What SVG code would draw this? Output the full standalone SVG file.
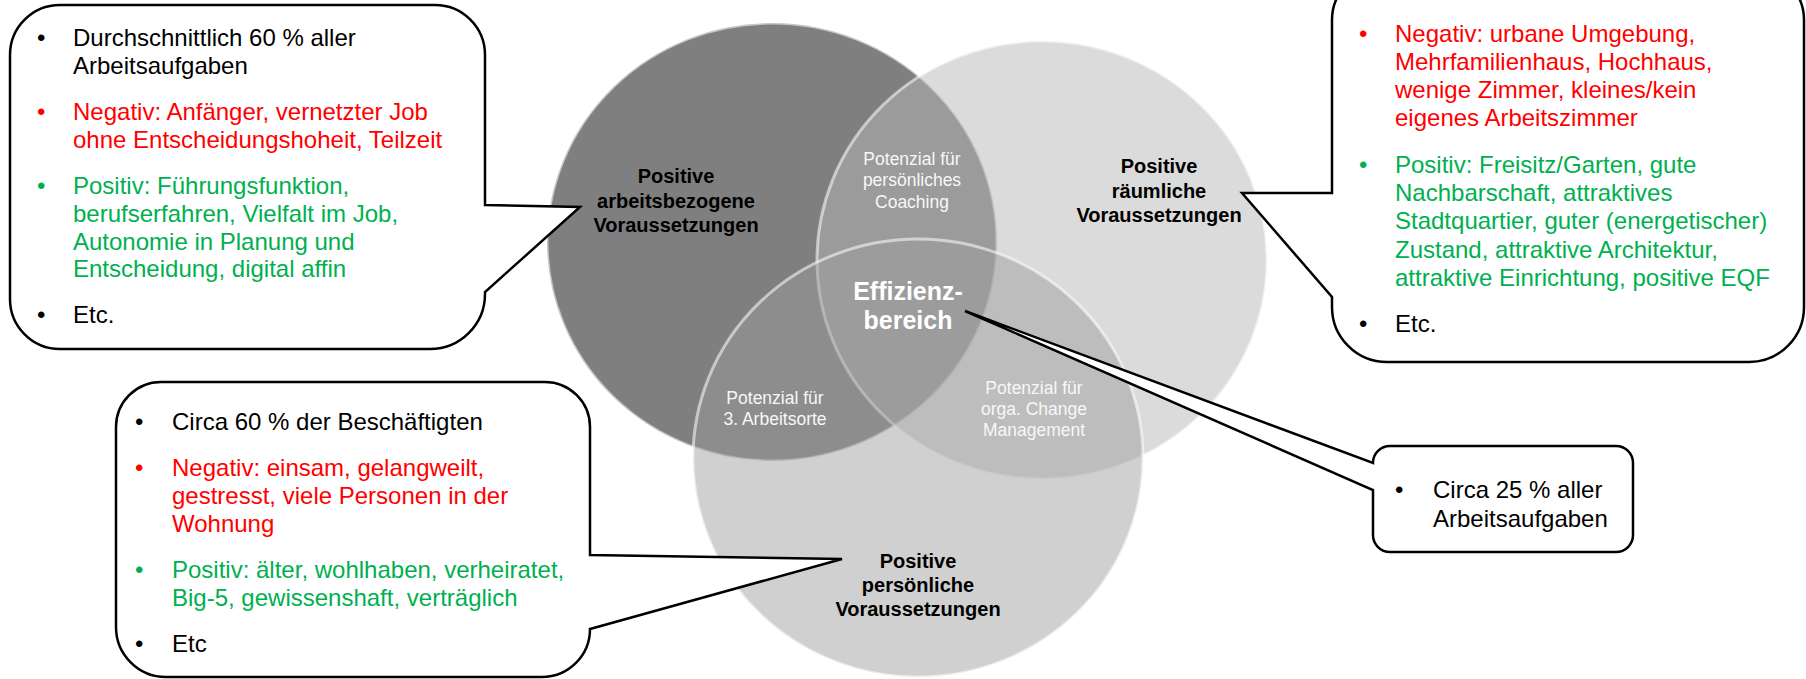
<svg xmlns="http://www.w3.org/2000/svg" width="1806" height="679" viewBox="0 0 1806 679">
  <style>
    .ring { stroke: #ffffff; stroke-opacity: 0.55; stroke-width: 3; }
    .head { font-family: "Liberation Sans", Arial, sans-serif; font-size: 20px; font-weight: bold; fill: #000000; text-anchor: middle; }
    .zone { font-family: "Liberation Sans", Arial, sans-serif; font-size: 17.5px; fill: #f7f7f7; text-anchor: middle; }
    .core { font-family: "Liberation Sans", Arial, sans-serif; font-size: 25px; font-weight: bold; fill: #ffffff; text-anchor: middle; }
    .bubble { fill: #ffffff; stroke: #000000; stroke-width: 2.5; stroke-linejoin: miter; }
    .txt { font-family: "Liberation Sans", Arial, sans-serif; font-size: 24px; }
    .k { fill: #000000; }
    .neg { fill: #ff0000; }
    .pos { fill: #00b050; }
  </style>

  <!-- Venn circles -->
  <g id="circle-work">
    <ellipse class="ring" cx="772" cy="242" rx="225" ry="219" fill="#7f7f7f"/>
  </g>
  <g id="circle-space">
    <ellipse class="ring" cx="1042" cy="260" rx="225" ry="219" fill="#b8b8b8" fill-opacity="0.5"/>
  </g>
  <g id="circle-person">
    <ellipse class="ring" cx="918" cy="458" rx="225" ry="219" fill="#9d9d9d" fill-opacity="0.48"/>
  </g>

  <!-- circle and overlap labels -->
  <g id="label-work">
    <text class="head" x="676" y="183">Positive</text>
    <text class="head" x="676" y="208">arbeitsbezogene</text>
    <text class="head" x="676" y="232">Voraussetzungen</text>
  </g>
  <g id="label-space">
    <text class="head" x="1159" y="173">Positive</text>
    <text class="head" x="1159" y="198">räumliche</text>
    <text class="head" x="1159" y="222">Voraussetzungen</text>
  </g>
  <g id="label-person">
    <text class="head" x="918" y="568">Positive</text>
    <text class="head" x="918" y="592">persönliche</text>
    <text class="head" x="918" y="616">Voraussetzungen</text>
  </g>
  <g id="overlap-coaching">
    <text class="zone" x="912" y="165">Potenzial für</text>
    <text class="zone" x="912" y="186">persönliches</text>
    <text class="zone" x="912" y="208">Coaching</text>
  </g>
  <g id="overlap-places">
    <text class="zone" x="775" y="404">Potenzial für</text>
    <text class="zone" x="775" y="425">3. Arbeitsorte</text>
  </g>
  <g id="overlap-change">
    <text class="zone" x="1034" y="394">Potenzial für</text>
    <text class="zone" x="1034" y="415">orga. Change</text>
    <text class="zone" x="1034" y="436">Management</text>
  </g>
  <g id="core">
    <text class="core" x="908" y="300">Effizienz-</text>
    <text class="core" x="908" y="329">bereich</text>
  </g>

  <!-- callouts with their pointers -->
  <g id="callout-work">
    <path class="bubble" d="M 60 5 H 435 A 50 50 0 0 1 485 55 V 205 L 580 207 L 485 292 V 294 A 55 55 0 0 1 430 349 H 60 A 50 50 0 0 1 10 299 V 55 A 50 50 0 0 1 60 5 Z"/>
    <g class="txt">
      <text class="k" x="37" y="46">•</text>
      <text class="k" x="73" y="46">Durchschnittlich 60 % aller</text>
      <text class="k" x="73" y="74">Arbeitsaufgaben</text>
      <text class="neg" x="37" y="120">•</text>
      <text class="neg" x="73" y="120">Negativ: Anfänger, vernetzter Job</text>
      <text class="neg" x="73" y="148">ohne Entscheidungshoheit, Teilzeit</text>
      <text class="pos" x="37" y="194">•</text>
      <text class="pos" x="73" y="194">Positiv: Führungsfunktion,</text>
      <text class="pos" x="73" y="222">berufserfahren, Vielfalt im Job,</text>
      <text class="pos" x="73" y="250">Autonomie in Planung und</text>
      <text class="pos" x="73" y="277">Entscheidung, digital affin</text>
      <text class="k" x="37" y="323">•</text>
      <text class="k" x="73" y="323">Etc.</text>
    </g>
  </g>

  <g id="callout-space">
    <path class="bubble" d="M 1382 -30 H 1754 A 50 50 0 0 1 1804 20 V 307 A 55 55 0 0 1 1749 362 H 1387 A 55 55 0 0 1 1332 307 V 297 L 1242 193 L 1332 193 V 20 A 50 50 0 0 1 1382 -30 Z"/>
    <g class="txt">
      <text class="neg" x="1359" y="42">•</text>
      <text class="neg" x="1395" y="42">Negativ: urbane Umgebung,</text>
      <text class="neg" x="1395" y="70">Mehrfamilienhaus, Hochhaus,</text>
      <text class="neg" x="1395" y="98">wenige Zimmer, kleines/kein</text>
      <text class="neg" x="1395" y="126">eigenes Arbeitszimmer</text>
      <text class="pos" x="1359" y="173">•</text>
      <text class="pos" x="1395" y="173">Positiv: Freisitz/Garten, gute</text>
      <text class="pos" x="1395" y="201">Nachbarschaft, attraktives</text>
      <text class="pos" x="1395" y="229">Stadtquartier, guter (energetischer)</text>
      <text class="pos" x="1395" y="258">Zustand, attraktive Architektur,</text>
      <text class="pos" x="1395" y="286">attraktive Einrichtung, positive EQF</text>
      <text class="k" x="1359" y="332">•</text>
      <text class="k" x="1395" y="332">Etc.</text>
    </g>
  </g>

  <g id="callout-person">
    <path class="bubble" d="M 161 382 H 545 A 45 45 0 0 1 590 427 V 555 L 842 559 L 590 629 A 48 48 0 0 1 542 677 H 166 A 50 50 0 0 1 116 627 V 427 A 45 45 0 0 1 161 382 Z"/>
    <g class="txt">
      <text class="k" x="135" y="430">•</text>
      <text class="k" x="172" y="430">Circa 60 % der Beschäftigten</text>
      <text class="neg" x="135" y="476">•</text>
      <text class="neg" x="172" y="476">Negativ: einsam, gelangweilt,</text>
      <text class="neg" x="172" y="504">gestresst, viele Personen in der</text>
      <text class="neg" x="172" y="532">Wohnung</text>
      <text class="pos" x="135" y="578">•</text>
      <text class="pos" x="172" y="578">Positiv: älter, wohlhaben, verheiratet,</text>
      <text class="pos" x="172" y="606">Big-5, gewissenshaft, verträglich</text>
      <text class="k" x="135" y="652">•</text>
      <text class="k" x="172" y="652">Etc</text>
    </g>
  </g>

  <g id="callout-core">
    <path class="bubble" d="M 1390 446 H 1616 A 17 17 0 0 1 1633 463 V 535 A 17 17 0 0 1 1616 552 H 1390 A 17 17 0 0 1 1373 535 V 490 L 965 311 L 1373 463 A 17 17 0 0 1 1390 446 Z"/>
    <g class="txt">
      <text class="k" x="1395" y="498">•</text>
      <text class="k" x="1433" y="498">Circa 25 % aller</text>
      <text class="k" x="1433" y="527">Arbeitsaufgaben</text>
    </g>
  </g>
</svg>
